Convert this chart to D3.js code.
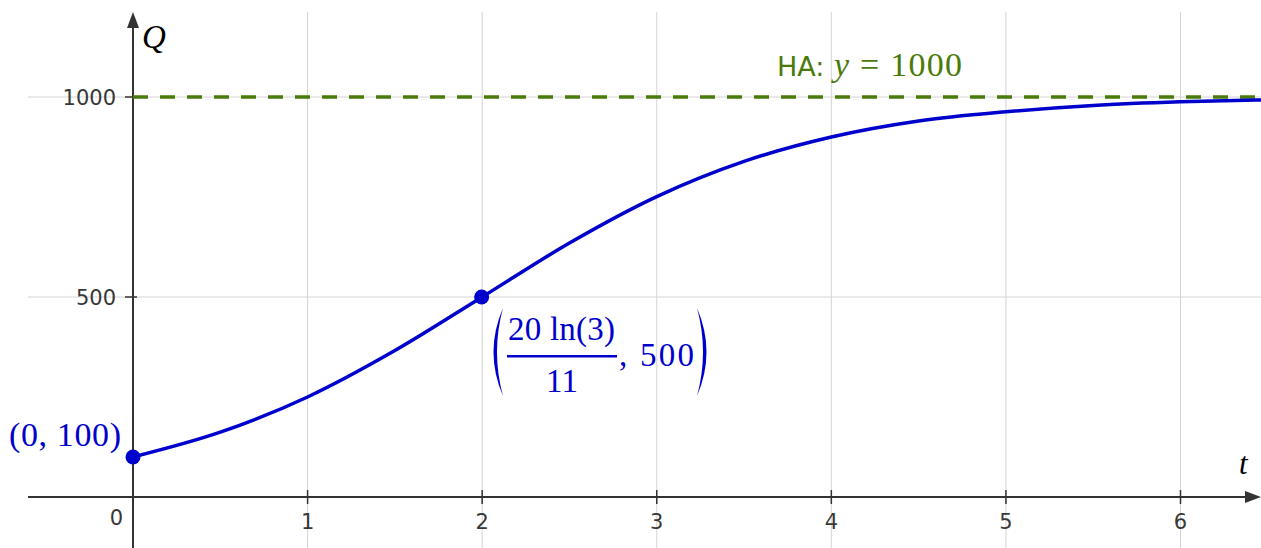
<!DOCTYPE html>
<html>
<head>
<meta charset="utf-8">
<script src="https://cdn.jsdelivr.net/npm/d3@7"></script>
<style>
  body { margin: 0; background: #fff; }
  svg { display: block; }
  .tick-label { font-family: "DejaVu Sans", Verdana, sans-serif; font-size: 21px; fill: #383838; }
  .math { font-family: "Liberation Serif", "DejaVu Serif", serif; }
</style>
</head>
<body>
<svg width="1261" height="548"></svg>
<script>
// values
var tValues = [0, 0.5, 1, 1.5, 2, 2.5, 3, 3.5, 4, 4.5, 5, 5.5, 6, 6.5]
var qValues = [100, 162, 250, 366, 500, 635, 751, 839, 900, 940, 963, 979, 988, 993]
var xTicks = [1, 2, 3, 4, 5, 6]
var yTicks = [500, 1000]
var asymptote = 1000
var points = [
  {t: 0, q: 100},
  {t: 1.997, q: 500}
]

var svg = d3.select('svg')
var W = 1261, H = 548

var x = d3.scaleLinear().domain([0, 6]).range([133, 1180.5])
var y = d3.scaleLinear().domain([0, 1000]).range([497, 97])

var blue = '#0000cc'
var green = '#4a7a0a'
var axisColor = '#333'

// grid
svg.append('g').selectAll('line')
  .data(xTicks)
  .enter().append('line')
  .attr('x1', function(d) { return x(d) }).attr('x2', function(d) { return x(d) })
  .attr('y1', 12).attr('y2', H)
  .attr('stroke', '#d4d4d4').attr('stroke-width', 1)

svg.append('g').selectAll('line')
  .data(yTicks)
  .enter().append('line')
  .attr('x1', 28).attr('x2', W)
  .attr('y1', function(d) { return y(d) }).attr('y2', function(d) { return y(d) })
  .attr('stroke', '#d4d4d4').attr('stroke-width', 1)

// axes
svg.append('line')
  .attr('x1', 28).attr('x2', W - 10)
  .attr('y1', y(0)).attr('y2', y(0))
  .attr('stroke', axisColor).attr('stroke-width', 2)
svg.append('path')
  .attr('d', 'M' + W + ',' + y(0) + ' l-16,-6 l0,12 z')
  .attr('fill', axisColor)

svg.append('line')
  .attr('x1', x(0)).attr('x2', x(0))
  .attr('y1', H).attr('y2', 22)
  .attr('stroke', axisColor).attr('stroke-width', 2)
svg.append('path')
  .attr('d', 'M' + x(0) + ',12 l-6,16 l12,0 z')
  .attr('fill', axisColor)

// ticks
svg.append('g').selectAll('line')
  .data(xTicks)
  .enter().append('line')
  .attr('x1', function(d) { return x(d) }).attr('x2', function(d) { return x(d) })
  .attr('y1', y(0) - 7).attr('y2', y(0) + 7)
  .attr('stroke', axisColor).attr('stroke-width', 1.5)

svg.append('g').selectAll('line')
  .data(yTicks)
  .enter().append('line')
  .attr('x1', x(0) - 8).attr('x2', x(0) + 4)
  .attr('y1', function(d) { return y(d) }).attr('y2', function(d) { return y(d) })
  .attr('stroke', axisColor).attr('stroke-width', 1.5)

svg.append('g').selectAll('text')
  .data(xTicks)
  .enter().append('text')
  .attr('class', 'tick-label')
  .attr('x', function(d) { return x(d) })
  .attr('y', y(0) + 32)
  .attr('text-anchor', 'middle')
  .text(function(d) { return d })

svg.append('text')
  .attr('class', 'tick-label')
  .attr('x', x(0) - 10).attr('y', y(0) + 28)
  .attr('text-anchor', 'end')
  .text('0')

svg.append('g').selectAll('text')
  .data(yTicks)
  .enter().append('text')
  .attr('class', 'tick-label')
  .attr('x', x(0) - 17)
  .attr('y', function(d) { return y(d) + 8 })
  .attr('text-anchor', 'end')
  .text(function(d) { return d })

// axis names
svg.append('text').attr('class', 'math')
  .attr('x', 142).attr('y', 48)
  .style('font-size', '33px').style('font-style', 'italic')
  .text('Q')
svg.append('text').attr('class', 'math')
  .attr('x', 1239).attr('y', 474)
  .style('font-size', '31px').style('font-style', 'italic')
  .text('t')

// asymptote
svg.append('line')
  .attr('x1', x(0)).attr('x2', W)
  .attr('y1', y(asymptote)).attr('y2', y(asymptote))
  .attr('stroke', green).attr('stroke-width', 3.5)
  .attr('stroke-dasharray', '15,12')

svg.append('text')
  .attr('x', 777).attr('y', 76).attr('fill', green)
  .style('font-family', '"DejaVu Sans", Verdana, sans-serif').style('font-size', '27px')
  .text('HA:')
var ha = svg.append('text').attr('class', 'math')
  .attr('x', 834).attr('y', 76).attr('fill', green)
  .attr('textLength', 128).attr('lengthAdjust', 'spacing')
  .style('font-size', '34px')
ha.append('tspan').style('font-style', 'italic').text('y')
ha.append('tspan').text(' = 1000')

// curve
var line = d3.line()
  .x(function(d, i) { return x(tValues[i]) })
  .y(function(d) { return y(d) })
  .curve(d3.curveMonotoneX)

svg.append('path')
  .datum(qValues)
  .attr('d', line)
  .attr('fill', 'none')
  .attr('stroke', blue)
  .attr('stroke-width', 3.5)

svg.append('g').selectAll('circle')
  .data(points)
  .enter().append('circle')
  .attr('cx', function(d) { return x(d.t) })
  .attr('cy', function(d) { return y(d.q) })
  .attr('r', 7.5)
  .attr('fill', blue)

// point labels
svg.append('text').attr('class', 'math')
  .attr('x', 9).attr('y', 446)
  .attr('fill', blue)
  .attr('textLength', 112).attr('lengthAdjust', 'spacing')
  .style('font-size', '34px')
  .text('(0,  100)')

var lab = svg.append('g').attr('fill', blue)
lab.append('path')
  .attr('d', 'M503,308 Q484,352 503,396 Q491,352 503,308 Z')
lab.append('path')
  .attr('d', 'M697,308 Q716,352 697,396 Q709,352 697,308 Z')
lab.append('text').attr('class', 'math')
  .attr('x', 508).attr('y', 340)
  .attr('textLength', 107).attr('lengthAdjust', 'spacing')
  .style('font-size', '33px')
  .text('20 ln(3)')
lab.append('rect')
  .attr('x', 507).attr('y', 355)
  .attr('width', 110).attr('height', 2.5)
lab.append('text').attr('class', 'math')
  .attr('x', 562).attr('y', 392)
  .attr('text-anchor', 'middle')
  .style('font-size', '33px')
  .text('11')
lab.append('text').attr('class', 'math')
  .attr('x', 619).attr('y', 366)
  .attr('textLength', 75).attr('lengthAdjust', 'spacing')
  .style('font-size', '33px')
  .text(',  500')
</script>
</body>
</html>
